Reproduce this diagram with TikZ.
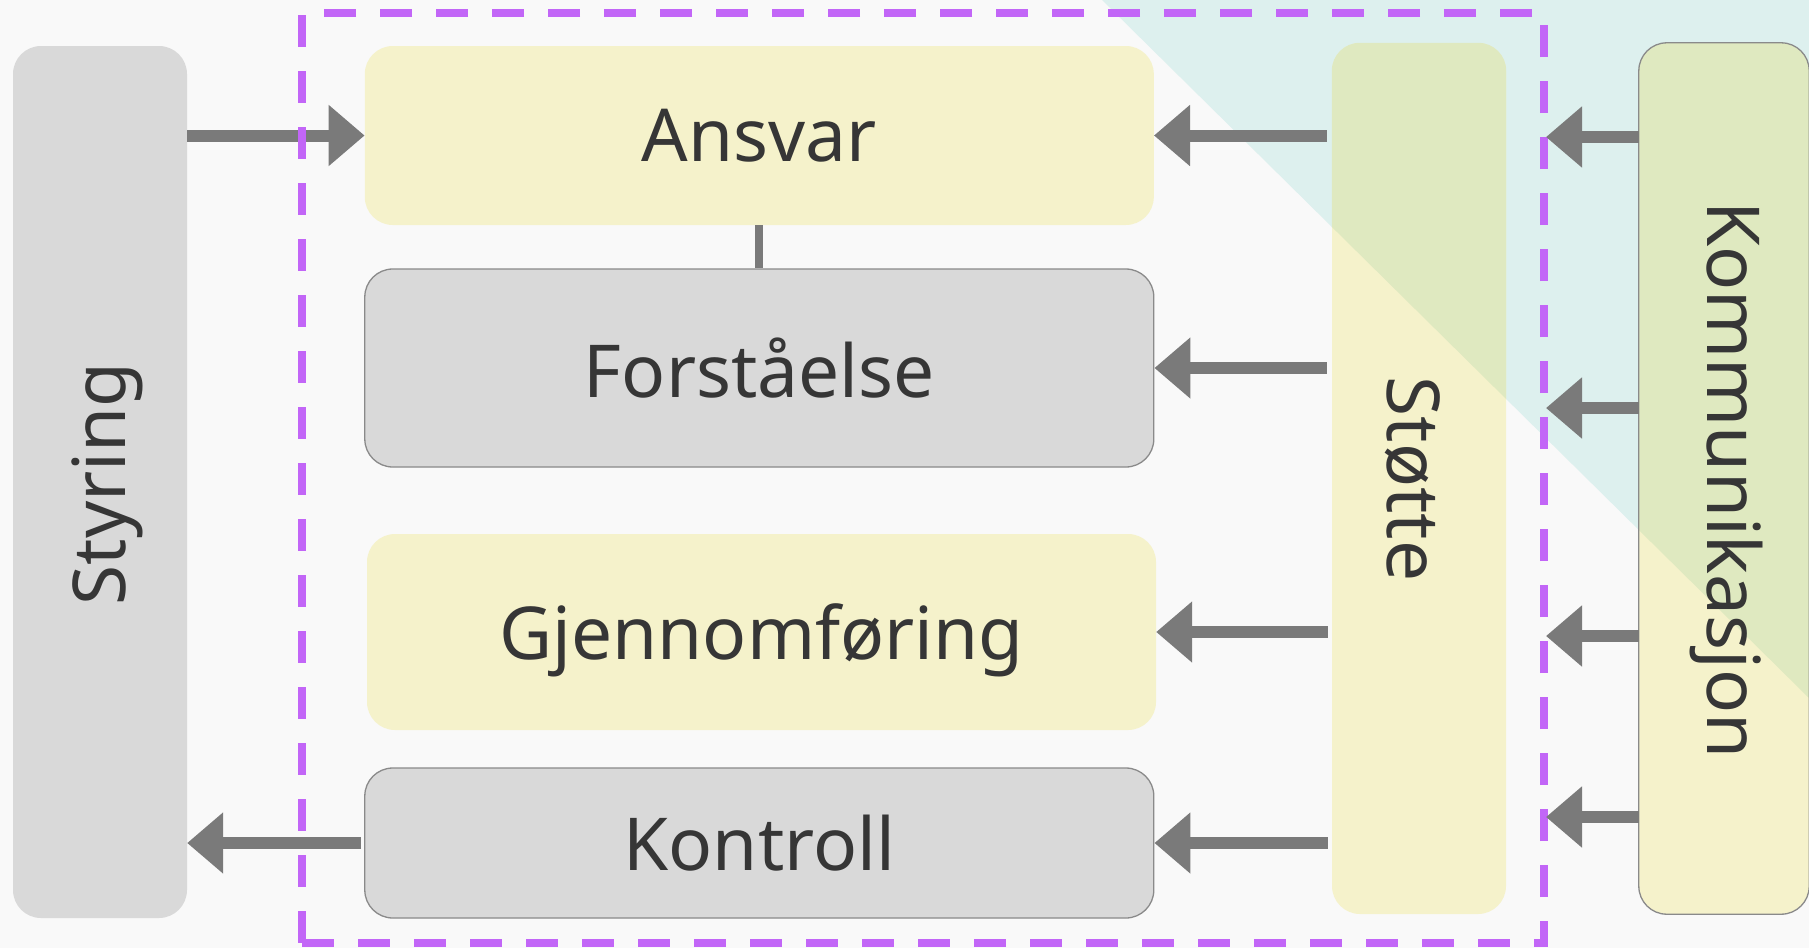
\documentclass[tikz,border=0pt]{standalone}
\usepackage{fontspec}
\setmainfont{Noto Sans}
\usetikzlibrary{arrows.meta}
\definecolor{bgc}{HTML}{F9F9F9}
\definecolor{tealc}{HTML}{DDF0EE}
\definecolor{yel}{HTML}{F5F2CB}
\definecolor{grn}{HTML}{DFE9C0}
\definecolor{gry}{HTML}{D9D9D9}
\definecolor{bord}{HTML}{8A8A8A}
\definecolor{arrc}{HTML}{7A7A7A}
\definecolor{txt}{HTML}{363636}
\definecolor{purp}{HTML}{C266F7}
\begin{document}
\begin{tikzpicture}[x=1pt,y=-1pt,
  box/.style={rectangle, rounded corners=28pt, inner sep=0pt, text=txt, text depth=0pt,
    font=\fontsize{73}{80}\selectfont},
  ybox/.style={box, fill=yel},
  gbox/.style={box, fill=gry},
  gboxb/.style={box, fill=gry, draw=bord, line width=1.3pt},
  lbl/.style={text=txt, font=\fontsize{73}{80}\selectfont, inner sep=0pt},
  arr/.style={draw=arrc, line width=12pt, -{Triangle[length=36pt,width=59pt]}},
  link/.style={draw=arrc, line width=8pt},
  frame/.style={rectangle, draw=purp, line width=7.5pt, dash pattern=on 32pt off 24pt, inner sep=0pt}
]
\useasboundingbox (0,0) rectangle (1809,948);
\fill[bgc] (0,0) rectangle (1809,948);
\fill[tealc] (1102,0) -- (1809,0) -- (1809,698) -- cycle;

% left column
\node[gbox, minimum width=174pt, minimum height=872pt] (sty) at (100,482) {};
\node[lbl, rotate=90] (styl) at (107,484) {Styring};

% middle boxes
\node[ybox, minimum width=789pt, minimum height=179pt] (ans) at (759.3,135.5) {Ansvar};
\node[gboxb, minimum width=789pt, minimum height=198pt] (for) at (759.3,368) {Forståelse};
\node[ybox, minimum width=789pt, minimum height=196pt] (gje) at (761.5,632) {Gjennomføring};
\node[gboxb, minimum width=789pt, minimum height=150pt] (kon) at (759.3,843) {Kontroll};

% right columns
\node[box, fill=yel, minimum width=174pt, minimum height=871pt] (sto) at (1419,478.5) {};
\node[box, fill=yel, minimum width=170pt, minimum height=871pt] (kom) at (1724,478.5) {};
\begin{scope}
  \clip[rounded corners=28pt] (sto.north west) rectangle (sto.south east);
  \fill[grn] (1102,0) -- (1809,0) -- (1809,698) -- cycle;
\end{scope}
\begin{scope}
  \clip[rounded corners=28pt] (kom.north west) rectangle (kom.south east);
  \fill[grn] (1102,0) -- (1809,0) -- (1809,698) -- cycle;
\end{scope}
\draw[bord, line width=1.3pt, rounded corners=28pt] (kom.north west) rectangle (kom.south east);
\node[lbl, rotate=-90] (stol) at (1413,479) {Støtte};
\node[lbl, rotate=-90] (koml) at (1726,480) {Kommunikasjon};

% connectors
\draw[link] (ans.south) -- (for.north);
\draw[arr] (sty.east |- ans.west) -- (ans.west);
\draw[arr, shorten <=5pt] (sto.west |- ans.east) -- (ans.east);
\draw[arr, shorten <=5pt] (sto.west |- for.east) -- (for.east);
\draw[arr, shorten <=4pt] (sto.west |- gje.east) -- (gje.east);
\draw[arr, shorten <=4pt] (sto.west |- kon.east) -- (kon.east);
\draw[arr, shorten <=3pt] (kon.west) -- (sty.east |- kon.west);

% dashed frame
\node[frame, minimum width=1242pt, minimum height=930pt] (fr) at (923,478) {};
\coordinate (k1) at (1546,137);
\coordinate (k2) at (1546,408);
\coordinate (k3) at (1546,636);
\coordinate (k4) at (1546,817);
\draw[arr] (kom.west |- k1) -- (k1);
\draw[arr] (kom.west |- k2) -- (k2);
\draw[arr] (kom.west |- k3) -- (k3);
\draw[arr] (kom.west |- k4) -- (k4);
\end{tikzpicture}
\end{document}
